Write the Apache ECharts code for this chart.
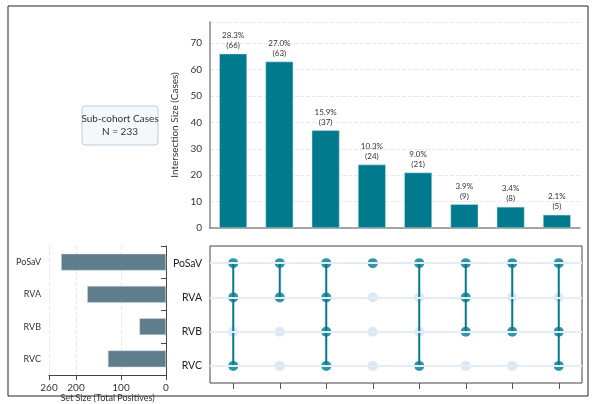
<!DOCTYPE html>
<html><head><meta charset="utf-8">
<script src="https://cdn.jsdelivr.net/npm/echarts@6/dist/echarts.min.js"></script>
<style>body{margin:0}#c{width:596px;height:404px}</style></head>
<body><div id="c"></div>
<script>
const sets = ['PoSaV','RVA','RVB','RVC'];
const setSizes = [233,175,59,129];
const intersections = ['c1','c2','c3','c4','c5','c6','c7','c8'];
const interSizes = [66,63,37,24,21,9,8,5];
const membership = [
  [1,1,0,1],[1,1,0,0],[1,1,1,1],[1,0,0,0],[1,0,0,1],[1,1,1,0],[1,0,1,0],[1,0,1,1]
];
const total = 233;
const font = 'Lato';
const teal = '#007a8c';
const dotsOn = [], dotsOff = [], lineSeries = [];
membership.forEach((m,c)=>{
  const rows=[];
  m.forEach((v,r)=>{ (v?dotsOn:dotsOff).push([c,r]); if(v) rows.push(r); });
  if(rows.length>1) lineSeries.push({type:'line',xAxisIndex:1,yAxisIndex:1,symbol:'none',z:3,
    lineStyle:{color:teal,width:2},data:[[c,Math.min(...rows)],[c,Math.max(...rows)]]});
});
const chart = echarts.init(document.getElementById('c'));
const lab = {fontFamily:font,color:'#333'};
chart.setOption({
  animation:false,
  textStyle:{fontFamily:font},
  graphic:[
    {type:'rect',shape:{x:8,y:6,width:580,height:390},style:{fill:'none',stroke:'#222',lineWidth:1}},
    {type:'rect',shape:{x:82,y:106,width:76,height:39,r:3},style:{fill:'#f5f8fb',stroke:'#b9cde0',lineWidth:1}},
    {type:'text',x:120,y:125.5,style:{text:'Sub-cohort Cases\nN = 233',fontFamily:font,fontSize:10,fill:'#333',align:'center',verticalAlign:'middle',lineHeight:13}}
  ],
  grid:[
    {left:210,right:16,top:22,height:206},
    {left:210,right:14,top:246,height:137,show:true,borderColor:'#444',borderWidth:1},
    {left:49,width:117,top:246,height:137}
  ],
  xAxis:[
    {gridIndex:0,type:'category',data:intersections,axisLabel:{show:false},axisTick:{show:false},axisLine:{lineStyle:{color:'#888',width:1.5}}},
    {gridIndex:1,type:'category',data:intersections,axisLabel:{show:false},axisLine:{show:false},axisTick:{show:true,alignWithLabel:true,length:6,inside:false,lineStyle:{color:'#555'}}},
    {gridIndex:2,type:'value',inverse:true,min:0,max:260,interval:100,axisLine:{show:true,lineStyle:{color:'#444'}},axisTick:{show:true,lineStyle:{color:'#444'}},
     axisLabel:{...lab,fontSize:10},splitLine:{show:true,lineStyle:{type:'dashed',color:'#e6e6e6'}},
     name:'Set Size (Total Positives)',nameLocation:'middle',nameGap:19,nameTextStyle:{...lab,fontSize:9}}
  ],
  yAxis:[
    {gridIndex:0,type:'value',min:0,max:78,interval:10,axisLine:{show:true,lineStyle:{color:'#888',width:1.5}},axisTick:{show:false},
     axisLabel:{...lab,fontSize:10,formatter:v=>v%10===0?v:''},splitLine:{lineStyle:{type:'dashed',color:'#e8e8e8'}},
     name:'Intersection Size (Cases)',nameLocation:'middle',nameGap:26,nameTextStyle:{...lab,fontSize:10}},
    {gridIndex:1,type:'category',data:sets,inverse:true,axisLine:{show:false},axisTick:{show:false},axisLabel:{...lab,fontSize:10.5,color:'#222',margin:8}},
    {gridIndex:2,type:'category',data:sets,inverse:true,axisLine:{show:true,lineStyle:{color:'#444'}},axisTick:{show:true,lineStyle:{color:'#444'}},axisLabel:{...lab,fontSize:9}}
  ],
  series:[
    {type:'bar',xAxisIndex:0,yAxisIndex:0,data:interSizes,barWidth:'60%',itemStyle:{color:teal,borderColor:'#cfe3ea',borderWidth:0.5},
     label:{show:true,position:'top',distance:3,fontFamily:font,fontSize:8,color:'#333',lineHeight:10,
       formatter:p=>(p.value/total*100).toFixed(1)+'%\n('+p.value+')'}},
    {type:'line',xAxisIndex:1,yAxisIndex:1,data:[],symbol:'none',
     markLine:{silent:true,symbol:'none',label:{show:false},lineStyle:{color:'#e4edf5',width:2,type:'solid'},
       data:sets.map(s=>({yAxis:s}))}},
    ...lineSeries,
    {type:'scatter',xAxisIndex:1,yAxisIndex:1,data:dotsOff,symbolSize:10,itemStyle:{color:'#d2e1f0'},z:2},
    {type:'scatter',xAxisIndex:1,yAxisIndex:1,data:dotsOn,symbolSize:10,itemStyle:{color:teal},z:4},
    {type:'bar',xAxisIndex:2,yAxisIndex:2,data:setSizes,barWidth:'52%',itemStyle:{color:'#607d8b',borderColor:'#cfd8dc',borderWidth:0.5}}
  ]
});
</script></body></html>
